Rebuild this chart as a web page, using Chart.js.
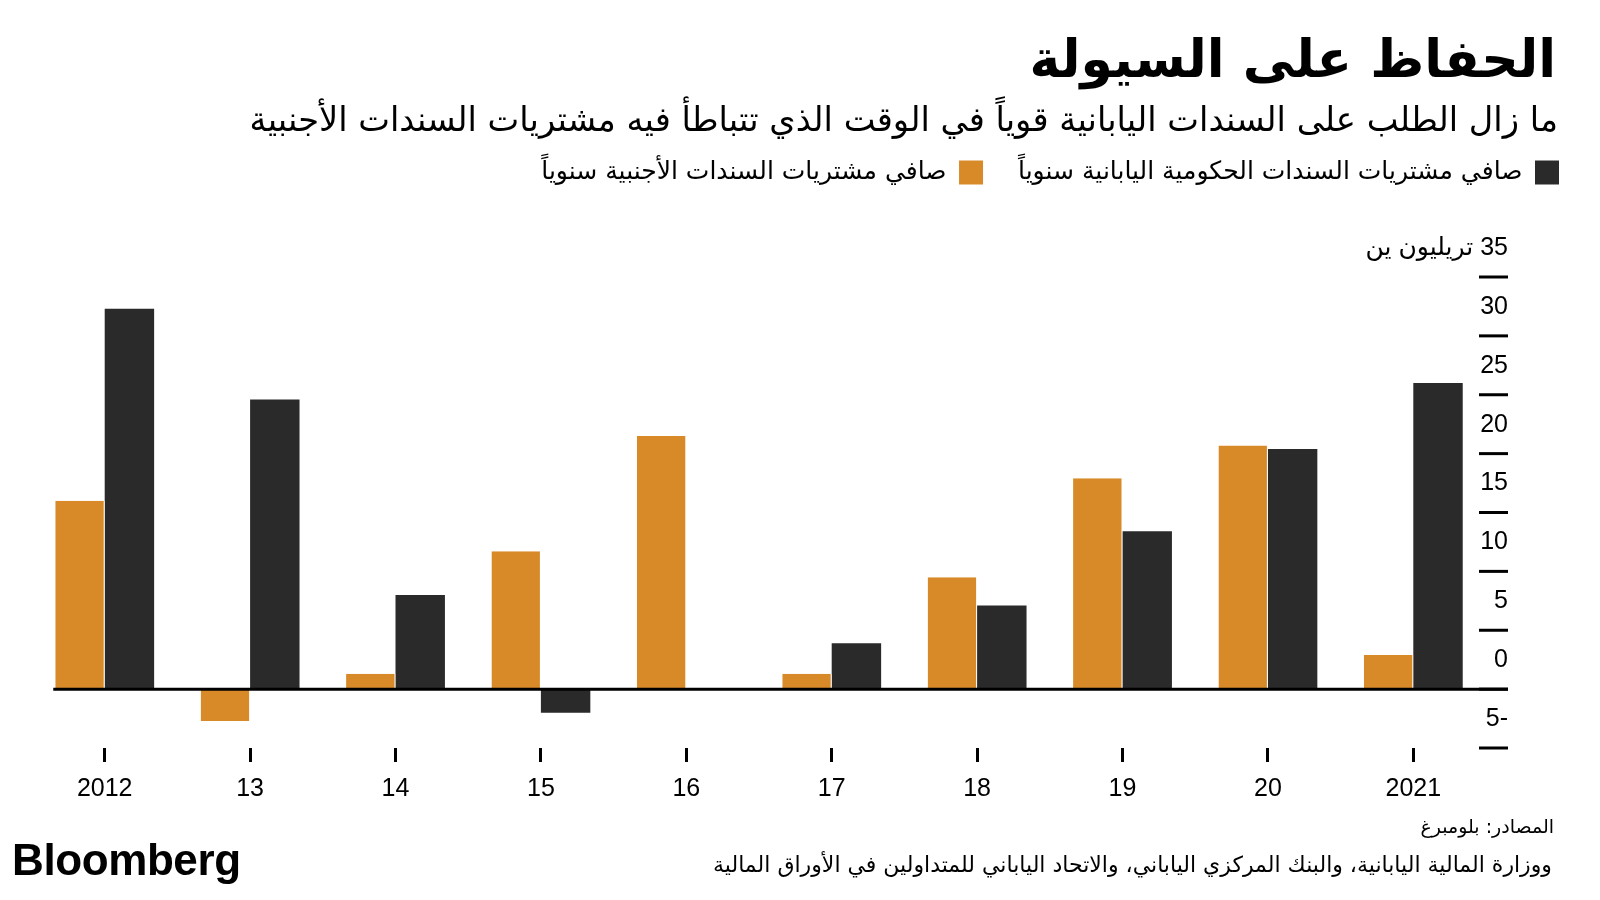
<!DOCTYPE html>
<html lang="ar">
<head>
<meta charset="utf-8">
<title>الحفاظ على السيولة</title>
<script src="https://cdn.jsdelivr.net/npm/chart.js@4.4.1/dist/chart.umd.min.js"></script>
<style>
  body { margin: 0; background: #fff; }
  #wrap { position: relative; width: 1600px; height: 900px; overflow: hidden; font-family: "DejaVu Sans", sans-serif; color: #000; }
  #chart { position: absolute; left: 0; top: 0; }
  .txt { position: absolute; right: 44px; direction: rtl; white-space: nowrap; line-height: 1.2; }
  #title { top: 28px; font-size: 52px; font-weight: bold; }
  #subtitle { top: 100px; font-size: 33.7px; right: 42px; }
  #source1 { top: 815px; font-size: 19px; right: 46px; }
  #source2 { top: 852px; font-size: 22px; right: 48px; }
  #logo { position: absolute; left: 12px; top: 838px; font-family: "Liberation Sans", Arial, sans-serif; font-weight: bold; font-size: 44px; line-height: 1; letter-spacing: -0.4px; }
</style>
</head>
<body>
<div id="wrap">
  <canvas id="chart" width="1600" height="900"></canvas>
  <div id="title" class="txt">الحفاظ على السيولة</div>
  <div id="subtitle" class="txt">ما زال الطلب على السندات اليابانية قوياً في الوقت الذي تتباطأ فيه مشتريات السندات الأجنبية</div>
  <div id="source1" class="txt">المصادر: بلومبرغ</div>
  <div id="source2" class="txt">ووزارة المالية اليابانية، والبنك المركزي الياباني، والاتحاد الياباني للمتداولين في الأوراق المالية</div>
  <div id="logo">Bloomberg</div>
</div>
<script>
// years on the x axis
const years = ['2012', '13', '14', '15', '16', '17', '18', '19', '20', '2021'];
// net annual purchases, trillion yen
const foreignBonds = [16.0, -2.7, 1.3, 11.7, 21.5, 1.3, 9.5, 17.9, 20.7, 2.9];
const japanBonds = [32.3, 24.6, 8.0, -2.0, 0, 3.9, 7.1, 13.4, 20.4, 26.0];
const seriesNames = ['صافي مشتريات السندات الأجنبية سنوياً', 'صافي مشتريات السندات الحكومية اليابانية سنوياً'];
const yUnit = 'تريليون ين';

const orange = '#d98a28';
const dark = '#2a2a2a';

// y labels sit above their dash, right aligned with it; zero line under the bars
const rightAxis = {
  id: 'rightAxis',
  afterInit(chart) {
    const legend = chart.legend;
    const fit = legend.fit;
    legend.fit = function () {
      fit.call(this);
      this.height = 152;
    };
  },
  afterDraw(chart) {
    const ctx = chart.ctx;
    const y = chart.scales.y;
    const area = chart.chartArea;
    const edge = area.right + 22;
    ctx.save();
    ctx.strokeStyle = '#000';
    ctx.lineWidth = 3;
    // zero line
    const bar0 = chart.getDatasetMeta(0).data[0];
    const y0 = y.getPixelForValue(0);
    ctx.beginPath();
    ctx.moveTo(bar0.x - bar0.width / 2 - 2, y0);
    ctx.lineTo(edge, y0);
    ctx.stroke();
    ctx.fillStyle = '#000';
    ctx.font = '25px "Liberation Sans", "DejaVu Sans", sans-serif';
    ctx.textAlign = 'right';
    ctx.textBaseline = 'middle';
    ctx.direction = 'rtl';
    y.ticks.forEach(t => {
      const py = y.getPixelForValue(t.value);
      ctx.beginPath();
      ctx.moveTo(area.right - 7, py);
      ctx.lineTo(edge, py);
      ctx.stroke();
      const label = t.value === y.max ? t.value + ' ' + yUnit : String(t.value);
      ctx.fillText(label, edge, py - 29);
    });
    ctx.restore();
  }
};

new Chart(document.getElementById('chart'), {
  type: 'bar',
  data: {
    labels: years,
    datasets: [
      { label: seriesNames[0], data: foreignBonds, backgroundColor: orange,
        borderColor: '#fff', borderWidth: { top: 0, right: 1, bottom: 0, left: 0 } },
      { label: seriesNames[1], data: japanBonds, backgroundColor: dark }
    ]
  },
  options: {
    responsive: false,
    animation: false,
    categoryPercentage: 0.68,
    barPercentage: 1.0,
    layout: { padding: { top: 125, right: 6, bottom: 98, left: 32 } },
    plugins: {
      title: { display: false },
      tooltip: { enabled: false },
      legend: {
        position: 'top',
        align: 'start',
        rtl: true,
        textDirection: 'rtl',
        reverse: true,
        labels: {
          boxWidth: 24,
          boxHeight: 24,
          padding: 35,
          color: '#000',
          font: { family: '"DejaVu Sans", sans-serif', size: 25 },
          generateLabels(chart) {
            return chart.data.datasets.map((ds, i) => ({
              text: ds.label,
              fillStyle: ds.backgroundColor,
              strokeStyle: ds.backgroundColor,
              lineWidth: 0,
              hidden: false,
              datasetIndex: i
            }));
          }
        }
      }
    },
    scales: {
      x: {
        offset: true,
        grid: { offset: false, drawOnChartArea: false, drawTicks: true, tickLength: 14, tickWidth: 3, tickColor: '#000' },
        border: { display: false },
        ticks: { color: '#000', padding: 12, maxRotation: 0, autoSkip: false, font: { family: '"Liberation Sans", sans-serif', size: 25 } },
        afterFit(scale) { scale.height = 54; }
      },
      y: {
        position: 'right',
        min: -5,
        max: 35,
        grid: { display: false, drawTicks: false },
        border: { display: false },
        ticks: { display: false, stepSize: 5 },
        afterFit(scale) { scale.width = 108; }
      }
    }
  },
  plugins: [rightAxis]
});
</script>
</body>
</html>
